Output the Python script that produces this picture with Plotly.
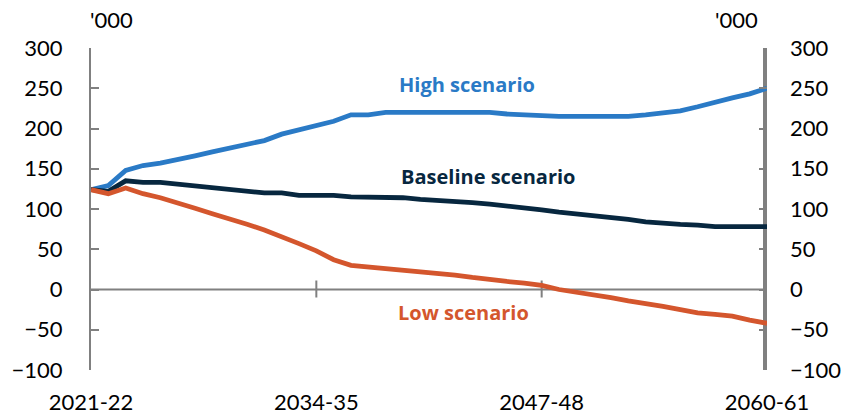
import plotly.graph_objects as go

# Financial years 2021-22 .. 2060-61
years = [f"{y}-{(y + 1) % 100:02d}" for y in range(2021, 2061)]
tick_labels = ["2021-22", "2034-35", "2047-48", "2060-61"]

# Net overseas migration, '000 persons
high = [124, 129, 148, 154, 157, 161, 166, 171, 176, 180,
        185, 193, 198, 203, 209, 217, 217, 220, 220, 220,
        220, 220, 220, 220, 218, 217, 215, 215, 215, 215,
        215, 215, 217, 219, 222, 227, 233, 238, 243, 250]
baseline = [124, 122, 135, 133, 133, 131, 129, 127, 125, 123,
            120, 120, 117, 117, 117, 115, 115, 115, 114, 112,
            111, 109, 108, 106, 104, 102, 99, 96, 94, 92,
            89, 87, 84, 82, 81, 80, 78, 78, 78, 78]
low = [124, 119, 126, 119, 114, 108, 101, 94, 88, 81,
       74, 66, 57, 48, 37, 30, 28, 27, 25, 22,
       20, 18, 15, 12, 10, 8, 5, 0, -3, -7,
       -10, -14, -17, -21, -25, -29, -31, -33, -38, -42]

y_ticks = [-100, -50, 0, 50, 100, 150, 200, 250, 300]
zero_ticks = ["2034-35", "2047-48"]

C_HIGH = "#2a7ac6"
C_BASE = "#07273f"
C_LOW = "#d4562d"
GREY = "#808080"
FONT = "Lato"
LABEL_FONT = "Open Sans"

fig = go.Figure()
for vals, col in [(high, C_HIGH), (baseline, C_BASE), (low, C_LOW)]:
    fig.add_trace(go.Scatter(x=years, y=vals, mode="lines",
                             line=dict(color=col, width=4.8),
                             showlegend=False, hoverinfo="skip"))
# invisible trace so the right-hand axis is drawn
fig.add_trace(go.Scatter(x=[years[0]], y=[0], yaxis="y2", mode="lines",
                         line=dict(width=0), showlegend=False, hoverinfo="skip"))

# zero line with crossing tick marks
shapes = [dict(type="line", xref="x", yref="y", x0=0, x1=len(years) - 1,
               y0=0, y1=0, line=dict(color=GREY, width=2), layer="below")]
for t in zero_ticks:
    i = years.index(t)
    shapes.append(dict(type="line", xref="x", yref="y", ysizemode="pixel",
                       yanchor=0, x0=i, x1=i, y0=-8, y1=9,
                       line=dict(color=GREY, width=2), layer="below"))
# heavy right-hand axis bar
shapes.append(dict(type="line", xref="x", yref="y", x0=len(years) - 1,
                   x1=len(years) - 1, y0=y_ticks[0], y1=y_ticks[-1],
                   line=dict(color=GREY, width=8), layer="below"))

yax = dict(range=[y_ticks[0], y_ticks[-1]], tickvals=y_ticks, ticks="inside",
           ticklen=8, tickwidth=2, tickcolor=GREY, showgrid=False,
           zeroline=False, tickfont=dict(family=FONT, size=22, color="#000"),
           ticklabelstandoff=22, automargin=False)

fig.update_layout(
    width=843, height=416,
    margin=dict(l=91, r=76, t=48, b=46),
    paper_bgcolor="white", plot_bgcolor="white",
    xaxis=dict(type="category", range=[0, len(years) - 1], tickvals=tick_labels,
               ticktext=tick_labels, ticks="", showline=False, showgrid=False,
               zeroline=False, tickfont=dict(family=FONT, size=22, color="#000"),
               ticklabelstandoff=17, automargin=False),
    yaxis=dict(**yax, showline=True, linecolor=GREY, linewidth=2),
    yaxis2=dict(**yax, overlaying="y", side="right", showline=False),
    shapes=shapes,
    annotations=[
        dict(text="High scenario", x=21.7, y=255, xref="x", yref="y",
             showarrow=False, font=dict(family=LABEL_FONT, size=20, color=C_HIGH, weight="bold")),
        dict(text="Baseline scenario", x=22.9, y=141, xref="x", yref="y",
             showarrow=False, font=dict(family=LABEL_FONT, size=20, color=C_BASE, weight="bold")),
        dict(text="Low scenario", x=21.5, y=-29, xref="x", yref="y",
             showarrow=False, font=dict(family=LABEL_FONT, size=20, color=C_LOW, weight="bold")),
        dict(text="'000", x=-0.0044, y=1.087, xref="paper", yref="paper",
             yanchor="middle", showarrow=False,
             font=dict(family=FONT, size=22, color="#000")),
        dict(text="'000", x=0.9896, y=1.087, xref="paper", yref="paper",
             yanchor="middle", showarrow=False,
             font=dict(family=FONT, size=22, color="#000")),
    ],
)

fig.write_html("out.html")
